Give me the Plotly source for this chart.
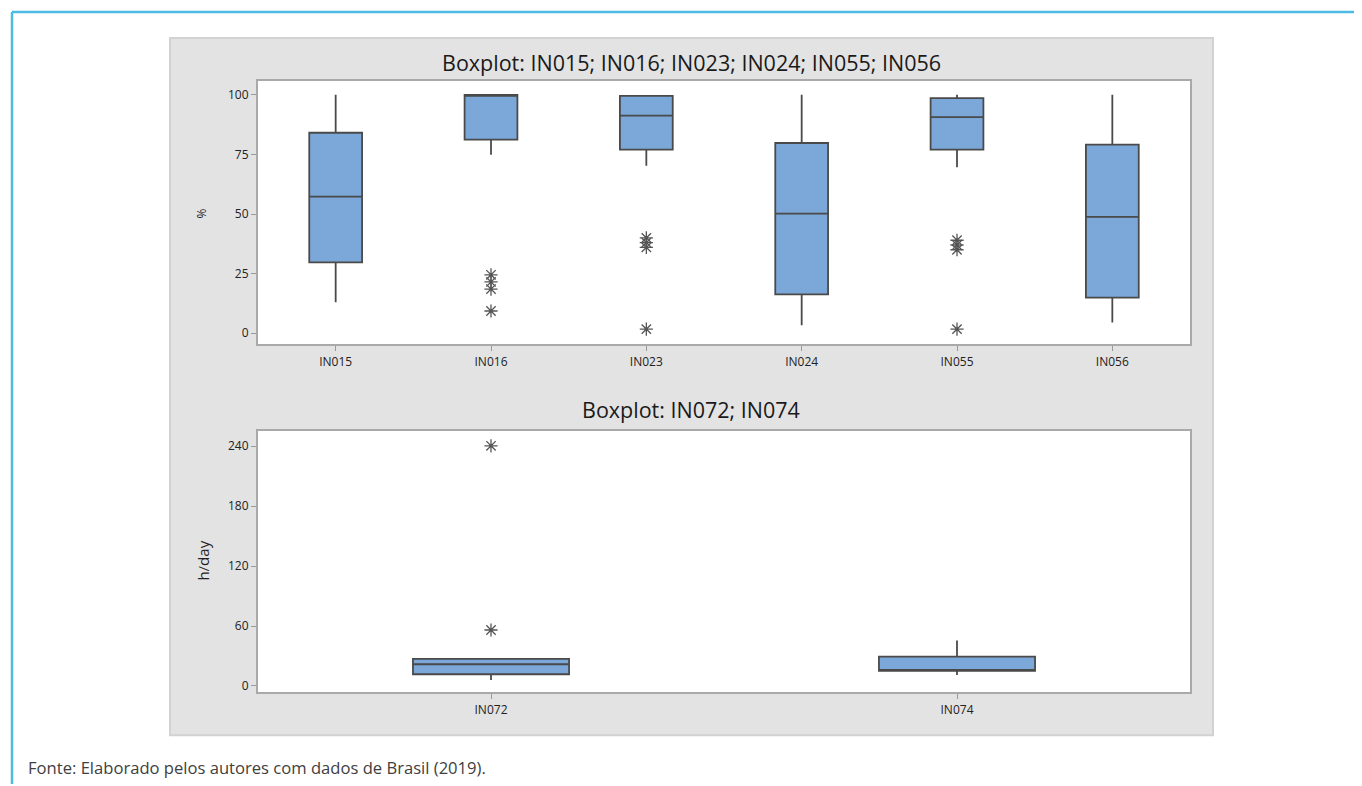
import plotly.graph_objects as go

# ---------------- data ----------------
categories_top = ["IN015", "IN016", "IN023", "IN024", "IN055", "IN056"]
q1_top = [29.7, 81.2, 77.0, 16.3, 77.0, 14.9]
median_top = [57.3, 99.8, 91.3, 50.2, 90.7, 48.8]
q3_top = [84.1, 100.0, 99.6, 79.8, 98.6, 79.1]
lower_top = [13.0, 74.9, 70.3, 3.3, 69.6, 4.5]
upper_top = [100.0, 100.0, 99.6, 100.0, 100.0, 100.0]

outlier_cat_top = ["IN016", "IN016", "IN016", "IN016",
                   "IN023", "IN023", "IN023", "IN023",
                   "IN055", "IN055", "IN055", "IN055"]
outlier_val_top = [24.5, 21.5, 18.5, 9.3,
                   40.0, 38.0, 36.0, 1.7,
                   39.0, 37.0, 35.0, 1.7]

categories_bot = ["IN072", "IN074"]
q1_bot = [11.7, 15.0]
median_bot = [21.7, 15.5]
q3_bot = [27.0, 29.4]
lower_bot = [6.0, 11.0]
upper_bot = [27.5, 45.4]

outlier_cat_bot = ["IN072", "IN072"]
outlier_val_bot = [240.4, 56.0]

yticks_top = [0, 25, 50, 75, 100]
yticks_bot = [0, 60, 120, 180, 240]

title_top = "Boxplot: IN015; IN016; IN023; IN024; IN055; IN056"
title_bot = "Boxplot: IN072; IN074"
caption = "Fonte: Elaborado pelos autores com dados de Brasil (2019)."

# ---------------- style ----------------
OFF = 8  # page body margin
W, H = 1362 - OFF, 786 - OFF
BOX_FILL = "#7ba7d9"
BOX_LINE = "#4a4a4a"
AX_LINE = "#a9a9a9"
MARK = "#555555"
FONT = "Open Sans"


def px(x):
    return (x - OFF) / W


def py(y):
    return 1 - (y - OFF) / H


fig = go.Figure()

fig.add_trace(go.Box(
    x=categories_top, q1=q1_top, median=median_top, q3=q3_top,
    lowerfence=lower_top, upperfence=upper_top,
    width=0.34, whiskerwidth=0, fillcolor=BOX_FILL,
    line=dict(color=BOX_LINE, width=1.8), boxpoints=False,
    xaxis="x", yaxis="y", showlegend=False, hoverinfo="skip"))

fig.add_trace(go.Scatter(
    x=outlier_cat_top, y=outlier_val_top, mode="markers",
    marker=dict(symbol="asterisk-open", size=11, color=MARK,
                line=dict(color=MARK, width=1.3)),
    xaxis="x", yaxis="y", showlegend=False, hoverinfo="skip"))

fig.add_trace(go.Box(
    x=categories_bot, q1=q1_bot, median=median_bot, q3=q3_bot,
    lowerfence=lower_bot, upperfence=upper_bot,
    width=0.335, whiskerwidth=0, fillcolor=BOX_FILL,
    line=dict(color=BOX_LINE, width=1.8), boxpoints=False,
    xaxis="x2", yaxis="y2", showlegend=False, hoverinfo="skip"))

fig.add_trace(go.Scatter(
    x=outlier_cat_bot, y=outlier_val_bot, mode="markers",
    marker=dict(symbol="asterisk-open", size=11, color=MARK,
                line=dict(color=MARK, width=1.3)),
    xaxis="x2", yaxis="y2", showlegend=False, hoverinfo="skip"))

# plot areas (reference pixels)
L, R = 258, 1190
T1, B1 = 81, 345
T2, B2 = 432, 694

axis_common = dict(showline=True, mirror=True, linecolor=AX_LINE, linewidth=2,
                   ticks="outside", ticklen=5, tickcolor="#9a9a9a", tickwidth=1,
                   showgrid=False, zeroline=False,
                   tickfont=dict(family=FONT, size=12, color="#222222"))

fig.update_layout(
    width=W, height=H, autosize=False,
    margin=dict(l=0, r=0, t=0, b=0),
    paper_bgcolor="white", plot_bgcolor="rgba(0,0,0,0)",
    xaxis=dict(domain=[px(L), px(R)], anchor="y", type="category",
               range=[-0.5, 5.5], **axis_common),
    yaxis=dict(domain=[py(B1), py(T1)], anchor="x", range=[-4.6, 105.9],
               tickvals=yticks_top, **axis_common),
    xaxis2=dict(domain=[px(L), px(R)], anchor="y2", type="category",
                range=[-0.5, 1.5], **axis_common),
    yaxis2=dict(domain=[py(B2), py(T2)], anchor="x2", range=[-6.3, 255.3],
                tickvals=yticks_bot, **axis_common),
    shapes=[
        # cyan frame (top and left)
        dict(type="line", xref="paper", yref="paper", x0=px(12), x1=1.0,
             y0=py(12), y1=py(12), line=dict(color="#4dbbe3", width=2.5), layer="below"),
        dict(type="line", xref="paper", yref="paper", x0=px(12), x1=px(12),
             y0=py(12), y1=0, line=dict(color="#4dbbe3", width=2.5), layer="below"),
        # gray panel
        dict(type="rect", xref="paper", yref="paper", x0=px(170), x1=px(1213),
             y0=py(737), y1=py(38), fillcolor="#e3e3e3",
             line=dict(color="#d2d2d2", width=2), layer="below"),
        # white plot areas
        dict(type="rect", xref="paper", yref="paper", x0=px(L), x1=px(R),
             y0=py(B1), y1=py(T1), fillcolor="white", line=dict(width=0), layer="below"),
        dict(type="rect", xref="paper", yref="paper", x0=px(L), x1=px(R),
             y0=py(B2), y1=py(T2), fillcolor="white", line=dict(width=0), layer="below"),
    ],
    annotations=[
        dict(text=title_top, xref="paper", yref="paper", x=px(691), y=py(63),
             xanchor="center", yanchor="middle", showarrow=False,
             font=dict(family=FONT, size=21.5, color="#1a1a1a")),
        dict(text=title_bot, xref="paper", yref="paper", x=px(691), y=py(411),
             xanchor="center", yanchor="middle", showarrow=False,
             font=dict(family=FONT, size=21.5, color="#1a1a1a")),
        dict(text="%", xref="paper", yref="paper", x=px(201), y=py(214),
             xanchor="center", yanchor="middle", showarrow=False, textangle=-90,
             font=dict(family=FONT, size=12, color="#222222")),
        dict(text="h/day", xref="paper", yref="paper", x=px(203), y=py(562),
             xanchor="center", yanchor="middle", showarrow=False, textangle=-90,
             font=dict(family=FONT, size=15, color="#222222")),
        dict(text=caption, xref="paper", yref="paper", x=px(26), y=py(769),
             xanchor="left", yanchor="middle", showarrow=False,
             font=dict(family=FONT, size=16.6, color="#404040")),
    ],
)

fig.write_html("out.html")
